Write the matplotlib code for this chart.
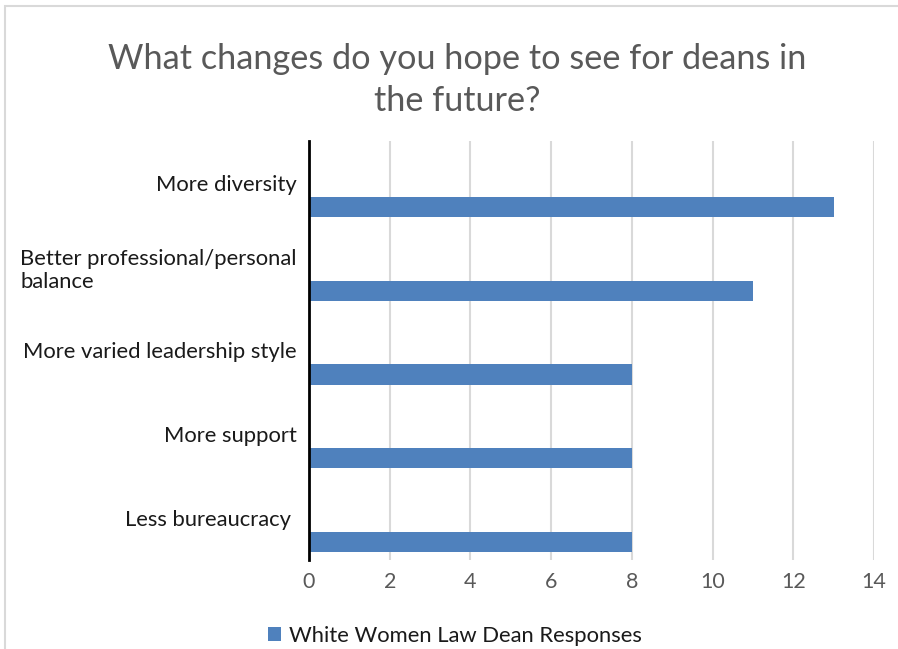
import matplotlib
matplotlib.use("Agg")
import matplotlib.pyplot as plt
from matplotlib.patches import Rectangle

categories = ["More diversity", "Better professional/personal\nbalance",
              "More varied leadership style", "More support", "Less bureaucracy "]
values = [13, 11, 8, 8, 8]
series_name = "White Women Law Dean Responses"
xticks = [0, 2, 4, 6, 8, 10, 12, 14]
title = "What changes do you hope to see for deans in\nthe future?"

plt.rcParams['font.family'] = ['Lato', 'DejaVu Sans']
W, H = 898, 649
fig = plt.figure(figsize=(W/100, H/100), dpi=100)
fig.patch.set_facecolor('white')

# chart border
fig.add_artist(Rectangle((4.5/W, -0.1), 1.2, 1 - 6/H + 0.1, transform=fig.transFigure,
                         fill=False, edgecolor='#d9d9d9', linewidth=1.5))

ax = fig.add_axes([309/W, 1 - 560/H, (874-309)/W, (560-141)/H])
bar_color = '#4f81bd'
pos = list(range(len(categories)))
ax.barh([p + 0.286 for p in pos], values, height=0.24, color=bar_color, label=series_name, zorder=3)
ax.set_ylim(len(categories) - 0.5, -0.5)
ax.set_xlim(0, 14)
ax.set_xticks(xticks)
ax.set_xticklabels([str(t) for t in xticks], fontsize=15.5, color='#595959')
ax.set_yticks(pos)
ax.set_yticklabels(categories, fontsize=15.8, color='#1a1a1a')
for lbl in ax.get_yticklabels():
    lbl.set_multialignment('left')
    lbl.set_linespacing(1.2)
ax.tick_params(axis='both', length=0)
ax.tick_params(axis='y', pad=9)
ax.tick_params(axis='x', pad=9)
ax.grid(axis='x', color='#d9d9d9', linewidth=1.5, zorder=0)
for s in ['top', 'right', 'bottom']:
    ax.spines[s].set_visible(False)
ax.spines['left'].set_color('black')
ax.spines['left'].set_linewidth(2)
ax.spines['left'].set_zorder(4)

fig.text(457/W, 1 - 80/H, title, ha='center', va='center', fontsize=24.7, color='#595959',
         linespacing=1.4)

fig.legend(loc='center', bbox_to_anchor=(455/W, 1 - 636/H), frameon=False,
           fontsize=15.8, handlelength=0.6, handleheight=0.6, handletextpad=0.35,
           labelcolor='#1a1a1a')

fig.savefig('out.png', dpi=100, facecolor='white')
